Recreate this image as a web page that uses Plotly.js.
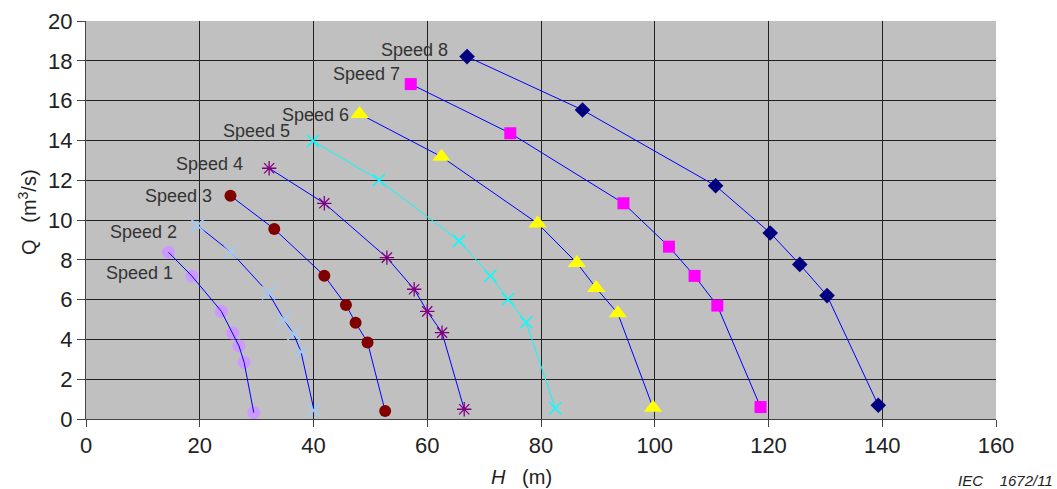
<!DOCTYPE html>
<html>
<head>
<meta charset="utf-8">
<script src="https://cdn.plot.ly/plotly-3.0.1.min.js"></script>
<style>html,body{margin:0;padding:0;background:#fff;}#chart{width:1057px;height:489px;}</style>
</head>
<body>
<div id="chart"></div>
<script>
// Head H (m) and flow Q (m3/s) for each speed
const speedNames = ["Speed 1","Speed 2","Speed 3","Speed 4","Speed 5","Speed 6","Speed 7","Speed 8"];
const h1 = [14.5, 18.6, 23.8, 25.8, 26.9, 27.8, 29.5];
const q1 = [8.38, 7.19, 5.41, 4.32, 3.67, 2.85, 0.32];
const h2 = [19.6, 25.5, 32.1, 34.8, 36.5, 37.8, 40.1];
const q2 = [9.72, 8.39, 6.33, 5.00, 4.27, 3.38, 0.43];
const h3 = [25.4, 33.1, 41.9, 45.7, 47.4, 49.5, 52.6];
const q3 = [11.22, 9.55, 7.20, 5.73, 4.84, 3.85, 0.40];
const h4 = [32.2, 41.9, 52.9, 57.7, 60.0, 62.6, 66.5];
const q4 = [12.60, 10.84, 8.11, 6.52, 5.41, 4.34, 0.49];
const h5 = [39.9, 51.5, 65.6, 71.1, 74.2, 77.4, 82.5];
const q5 = [13.97, 12.01, 8.95, 7.20, 6.02, 4.86, 0.54];
const h6 = [48.1, 62.5, 79.4, 86.3, 89.7, 93.5, 99.7];
const q6 = [15.33, 13.18, 9.83, 7.84, 6.58, 5.31, 0.57];
const h7 = [57.1, 74.6, 94.5, 102.5, 107.0, 111.0, 118.6];
const q7 = [16.83, 14.36, 10.84, 8.66, 7.19, 5.70, 0.60];
const h8 = [67.0, 87.3, 110.7, 120.3, 125.5, 130.3, 139.3];
const q8 = [18.21, 15.53, 11.72, 9.35, 7.77, 6.20, 0.69];

const xTicks = [0, 20, 40, 60, 80, 100, 120, 140, 160];
const yTicks = [0, 2, 4, 6, 8, 10, 12, 14, 16, 18, 20];

// label anchor positions (H, Q) for the speed labels
const labelH = [9.4, 10.1, 16.3, 21.8, 30.0, 40.3, 49.3, 57.8];
const labelQ = [7.35, 9.4, 11.2, 12.8, 14.45, 15.3, 17.35, 18.55];

const HS = [h1,h2,h3,h4,h5,h6,h7,h8];
const QS = [q1,q2,q3,q4,q5,q6,q7,q8];

const styles = [
  {symbol:'circle', color:'#CC99FF', size:13, lw:0, line:'#0000FF'},
  {symbol:'x-thin-open', color:'#99CCFF', size:13, lw:1.6, line:'#0000FF'},
  {symbol:'circle', color:'#800000', size:12, lw:0, line:'#0000FF'},
  {symbol:'asterisk-open', color:'#800080', size:12, lw:1.3, line:'#0000FF'},
  {symbol:'x-thin-open', color:'#00FFFF', size:12, lw:1.5, line:'#00FFFF'},
  {symbol:'triangle-up', color:'#FFFF00', size:16, lw:0, line:'#0000FF'},
  {symbol:'square', color:'#FF00FF', size:12, lw:0, line:'#0000FF'},
  {symbol:'diamond', color:'#000080', size:12, lw:0, line:'#0000FF'}
];

const traces = [];
for (let i = 0; i < 8; i++) {
  const s = styles[i];
  const lineTrace = {
    x: HS[i], y: QS[i], type:'scatter', mode:'lines', name: speedNames[i] + ' line',
    line:{color:s.line, width:1}, hoverinfo:'skip', showlegend:false
  };
  const markTrace = {
    x: HS[i], y: QS[i], type:'scatter', mode:'markers', name: speedNames[i],
    marker:{symbol:s.symbol, color:s.color, size:s.size, line:{color:s.color, width:s.lw}},
    hoverinfo:'skip', showlegend:false
  };
  if (i === 0) { traces.push(markTrace, lineTrace); } else { traces.push(lineTrace, markTrace); }
}

const FONT = 'Liberation Sans, Arial, sans-serif';
const annotations = speedNames.map((n, i) => ({
  x: labelH[i], y: labelQ[i], xref:'x', yref:'y', text:n, showarrow:false,
  font:{family:FONT, size:18, color:'#333333'},
  xanchor:'center', yanchor:'middle'
}));
annotations.push({
  x: 521, y: 477, xref:'paper', yref:'paper', text:'<i>H</i>\u00a0\u00a0 (m)', showarrow:false,
  font:{family:FONT, size:20, color:'#222'}, xanchor:'center', yanchor:'middle'
});
annotations.push({
  x: 1055, y: 480, xref:'paper', yref:'paper', text:'<i>IEC\u00a0\u00a0\u00a0 1672/11</i>', showarrow:false,
  font:{family:FONT, size:15, color:'#222'}, xanchor:'right', yanchor:'middle'
});
annotations.push({
  x: 27, y: 212, xref:'paper', yref:'paper', text:'Q\u00a0\u00a0 (m<sup>3</sup>/s)', showarrow:false, textangle:-90,
  font:{family:FONT, size:20, color:'#222'}, xanchor:'center', yanchor:'middle'
});

// convert pixel positions for paper-referenced annotations
const W = 1057, H = 489, ml = 86, mr = 61, mt = 21, mb = 70;
const pw = W - ml - mr, ph = H - mt - mb;
annotations.forEach(a => {
  if (a.xref === 'paper') {
    a.x = (a.x - ml) / pw;
    a.y = (H - mb - a.y) / ph;
  }
});

const layout = {
  width: W, height: H,
  margin:{l:ml, r:mr, t:mt, b:mb, pad:0},
  paper_bgcolor:'#ffffff', plot_bgcolor:'#C0C0C0',
  font:{family:FONT, color:'#222'},
  xaxis:{
    range:[0,160], tickvals:xTicks, ticktext:xTicks.map(String),
    showgrid:true, gridcolor:'#222', gridwidth:1,
    zeroline:false, showline:true, linecolor:'#444', linewidth:1,
    ticks:'outside', ticklen:7, tickcolor:'#444', tickwidth:1,
    tickfont:{size:22, color:'#222'}, fixedrange:true
  },
  yaxis:{
    range:[0,20], tickvals:yTicks, ticktext:yTicks.map(String),
    showgrid:true, gridcolor:'#222', gridwidth:1,
    zeroline:false, showline:true, linecolor:'#444', linewidth:1,
    ticks:'outside', ticklen:8, tickcolor:'#444', tickwidth:1,
    tickfont:{size:22, color:'#222'}, fixedrange:true
  },
  annotations: annotations,
  showlegend:false
};

Plotly.newPlot('chart', traces, layout, {staticPlot:true, displayModeBar:false});
</script>
</body>
</html>
